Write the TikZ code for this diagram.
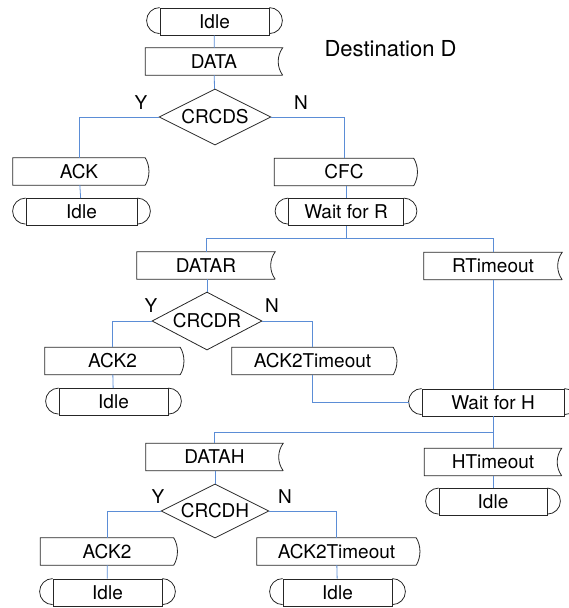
\documentclass[tikz,border=0pt]{standalone}
\usepackage{fontspec}
\setmainfont{TeX Gyre Heros}
\usepackage{tikz}
\usetikzlibrary{shapes.geometric}
\definecolor{wireblue}{RGB}{91,141,214}
\newcommand{\boxfont}{\fontsize{19}{22}\selectfont}
\tikzstyle{outline} = [draw=black!85, line width=0.8pt]
\tikzstyle{line} = [draw=wireblue, line width=0.8pt]
\tikzstyle{sig} = [minimum height=27pt, inner sep=0pt, font=\boxfont]
\tikzstyle{state} = [sig, outline, append after command={\pgfextra{
  \draw[outline] (\tikzlastnode.north west) arc (90:270:13pt);
  \draw[outline] (\tikzlastnode.north east) arc (90:-90:13pt);}}]
\tikzstyle{insig} = [sig, append after command={\pgfextra{
  \draw[outline] (\tikzlastnode.south east) -- (\tikzlastnode.south west)
    -- (\tikzlastnode.north west) -- (\tikzlastnode.north east)
    .. controls +(-6pt,-8pt) and +(-6pt,8pt) .. (\tikzlastnode.south east);}}]
\tikzstyle{outsig} = [sig, append after command={\pgfextra{
  \draw[outline] (\tikzlastnode.south east) -- (\tikzlastnode.south west)
    -- (\tikzlastnode.north west) -- (\tikzlastnode.north east)
    .. controls +(5pt,-8pt) and +(5pt,8pt) .. (\tikzlastnode.south east);}}]
\tikzstyle{decision} = [diamond, outline, aspect=2, inner sep=0pt,
  minimum width=110pt, minimum height=56pt, font=\boxfont]
\tikzstyle{yn} = [inner sep=0pt, font=\boxfont]

\begin{document}
\begin{tikzpicture}[x=1pt, y=1pt]
\useasboundingbox (0,0) rectangle (569,-608);
% top of the chart
\node[yn, font=\fontsize{22}{26}\selectfont] (dest) at (390.5,-49) {Destination D};
\node[state, minimum width=109pt] (idleA) at (214.5,-21.5) {Idle};
\node[insig, minimum width=137pt] (data) at (214,-61.5) {DATA};
\node[decision, minimum width=112pt] (crcds) at (215,-117) {CRCDS};
\node[yn] (yS) at (141,-103) {Y};
\node[yn] (nS) at (301,-103) {N};
\node[outsig, minimum width=132pt] (ack) at (79,-171.5) {ACK};
\node[state, minimum width=111pt] (idleB) at (81.5,-212) {Idle};
\node[outsig, minimum width=139pt] (cfc) at (344,-172) {CFC};
\node[state, minimum width=115pt] (waitr) at (346,-212) {Wait for R};
\coordinate (j1) at (346,-238);
% waiting for the relay
\node[insig, minimum width=138pt] (datar) at (206,-265.5) {DATAR};
\node[insig, minimum width=138pt] (rtout) at (493,-266) {RTimeout};
\node[decision, minimum height=58pt] (crcdr) at (207,-321) {CRCDR};
\node[yn] (yR) at (151,-306) {Y};
\node[yn] (nR) at (272,-306) {N};
\node[outsig, minimum width=135pt] (ack2a) at (112.5,-361) {ACK2};
\node[outsig, minimum width=161pt] (a2toA) at (312.5,-361) {ACK2Timeout};
\node[state, minimum width=109pt] (idleC) at (113.5,-402) {Idle};
\node[state, minimum width=142pt] (waith) at (493,-402.5) {Wait for H};
\coordinate (j2) at (493,-432);
% waiting for the helper
\node[insig, minimum width=137pt] (datah) at (214.5,-457) {DATAH};
\node[insig, minimum width=137pt] (htout) at (493,-462) {HTimeout};
\node[state, minimum width=108pt] (idleD) at (493,-502) {Idle};
\node[decision, minimum width=108pt, minimum height=54pt] (crcdh) at (215,-511) {CRCDH};
\node[yn] (yH) at (158,-497) {Y};
\node[yn] (nH) at (285,-497) {N};
\node[outsig, minimum width=133pt] (ack2b) at (107,-551.5) {ACK2};
\node[outsig, minimum width=159pt] (a2toB) at (336.5,-551.5) {ACK2Timeout};
\node[state, minimum width=109pt] (idleE) at (107.5,-592.5) {Idle};
\node[state, minimum width=109pt] (idleF) at (337.5,-592.5) {Idle};
% connectors
\draw[line] (idleA) -- (data);
\draw[line] (data) -- (crcds);
\draw[line] (crcds.west) -| (ack.north);
\draw[line] (crcds.east) -| (cfc.north);
\draw[line] (ack) -- (idleB);
\draw[line] (cfc.south -| waitr.north) -- (waitr);
\draw[line] (waitr) -- (j1);
\draw[line] (j1) -| (datar.north);
\draw[line] (j1) -| (rtout.north);
\draw[line] (datar.south -| crcdr.north) -- (crcdr);
\draw[line] (crcdr.west) -| (ack2a.north);
\draw[line] (crcdr.east) -| (a2toA.north);
\draw[line] (ack2a) -- (idleC);
\draw[line] (a2toA.south) |- ([xshift=-13pt]waith.west);
\draw[line] (rtout) -- (waith);
\draw[line] (waith) -- (j2);
\draw[line] (j2) -| (datah.north);
\draw[line] (j2) -- (htout);
\draw[line] (htout) -- (idleD);
\draw[line] (datah.south -| crcdh.north) -- (crcdh);
\draw[line] (crcdh.west) -| (ack2b.north);
\draw[line] (crcdh.east) -| (a2toB.north);
\draw[line] (ack2b) -- (idleE);
\draw[line] (a2toB) -- (idleF);
\end{tikzpicture}
\end{document}
